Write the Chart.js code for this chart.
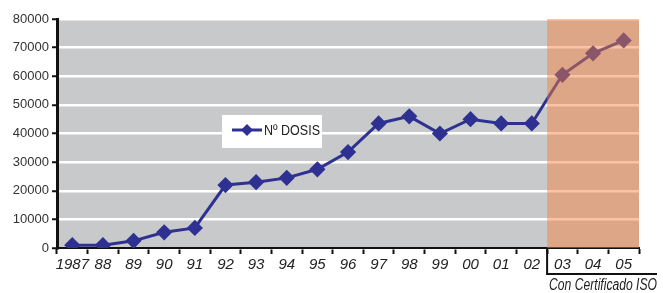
<!DOCTYPE html>
<html><head><meta charset="utf-8">
<script src="https://cdn.jsdelivr.net/npm/chart.js@4"></script>
<style>html,body{margin:0;padding:0;background:#fff}#wrap{width:663px;height:293px}</style>
</head><body><div id="wrap"><canvas id="c" width="663" height="293"></canvas></div>
<script>
const categories = ['1987','88','89','90','91','92','93','94','95','96','97','98','99','00','01','02','03','04','05'];
const dosis = [1000,1000,2500,5500,7000,22000,23000,24500,27500,33500,43500,46000,40000,45000,43500,43500,60500,68000,72500];
const yTicks = [0,10000,20000,30000,40000,50000,60000,70000,80000];
const seriesLabel = 'Nº DOSIS';
const isoLabel = 'Con Certificado ISO';
const isoStart = '03';

const LINE = '#2E3192';
const sans = '"Liberation Sans",Arial,sans-serif';

const bgPlugin = {
  id:'bg',
  beforeDraw(chart){
    const {ctx, chartArea:a} = chart;
    ctx.save(); ctx.fillStyle='#C8C9CB';
    ctx.fillRect(a.left,a.top,a.right-a.left,a.bottom-a.top); ctx.restore();
  }
};
const isoPlugin = {
  id:'iso',
  afterDatasetsDraw(chart){
    const {ctx, chartArea:a, scales:{x}} = chart;
    const i = categories.indexOf(isoStart);
    const half = (x.getPixelForValue(1)-x.getPixelForValue(0))/2;
    const x0 = x.getPixelForValue(i)-half;
    ctx.save();
    ctx.fillStyle='rgba(245,127,60,0.47)';
    ctx.fillRect(x0,a.top,a.right-x0,a.bottom-a.top);
    // bracket
    ctx.strokeStyle='#111'; ctx.lineWidth=2;
    ctx.beginPath(); ctx.moveTo(x0,a.bottom); ctx.lineTo(x0,a.bottom+26); ctx.lineTo(a.right+18,a.bottom+26); ctx.stroke();
    ctx.fillStyle='#222'; ctx.font='italic 16px '+sans; ctx.textBaseline='middle'; ctx.textAlign='left';
    ctx.fillText(isoLabel, x0+2, a.bottom+38, a.right+18-x0-2);
    // legend
    const lx=222, ly=115, lw=100, lh=33;
    ctx.fillStyle='#fff'; ctx.fillRect(lx,ly,lw,lh);
    ctx.strokeStyle=LINE; ctx.lineWidth=3;
    ctx.beginPath(); ctx.moveTo(lx+10,ly+15); ctx.lineTo(lx+40,ly+15); ctx.stroke();
    ctx.fillStyle=LINE; ctx.beginPath();
    ctx.moveTo(lx+25,ly+9); ctx.lineTo(lx+31,ly+15); ctx.lineTo(lx+25,ly+21); ctx.lineTo(lx+19,ly+15); ctx.closePath(); ctx.fill();
    ctx.fillStyle='#222'; ctx.font='14px '+sans; ctx.textBaseline='middle';
    ctx.fillText(seriesLabel, lx+42, ly+16, 56);
    ctx.restore();
  }
};

new Chart(document.getElementById('c'), {
  type:'line',
  data:{labels:categories, datasets:[{label:seriesLabel, data:dosis, borderColor:LINE, backgroundColor:LINE,
    borderWidth:3, pointStyle:'rectRot', pointRadius:6, pointHoverRadius:6, tension:0}]},
  options:{
    responsive:false, animation:false, devicePixelRatio:1,
    layout:{padding:{left:0,right:24,top:19,bottom:0}},
    plugins:{legend:{display:false}, tooltip:{enabled:false}},
    scales:{
      x:{offset:true,
        grid:{offset:true, drawOnChartArea:false, tickLength:6, tickColor:'#111', tickWidth:2},
        border:{color:'#111', width:2},
        ticks:{color:'#222', font:{family:sans, size:15, style:'italic'}, padding:2, maxRotation:0, autoSkip:false},
        afterFit(s){ s.height=45; }
      },
      y:{min:0,max:80000,
        afterBuildTicks(s){ s.ticks = yTicks.map(v=>({value:v})); },
        grid:{color:'#fff', lineWidth:2.5, tickLength:5, tickColor:'#111', tickWidth:2},
        border:{color:'#111', width:3},
        ticks:{color:'#333', font:{family:sans, size:13}, padding:3, callback:v=>String(v)},
        afterFit(s){ s.width=57; }
      }
    }
  },
  plugins:[bgPlugin, isoPlugin]
});
</script></body></html>
